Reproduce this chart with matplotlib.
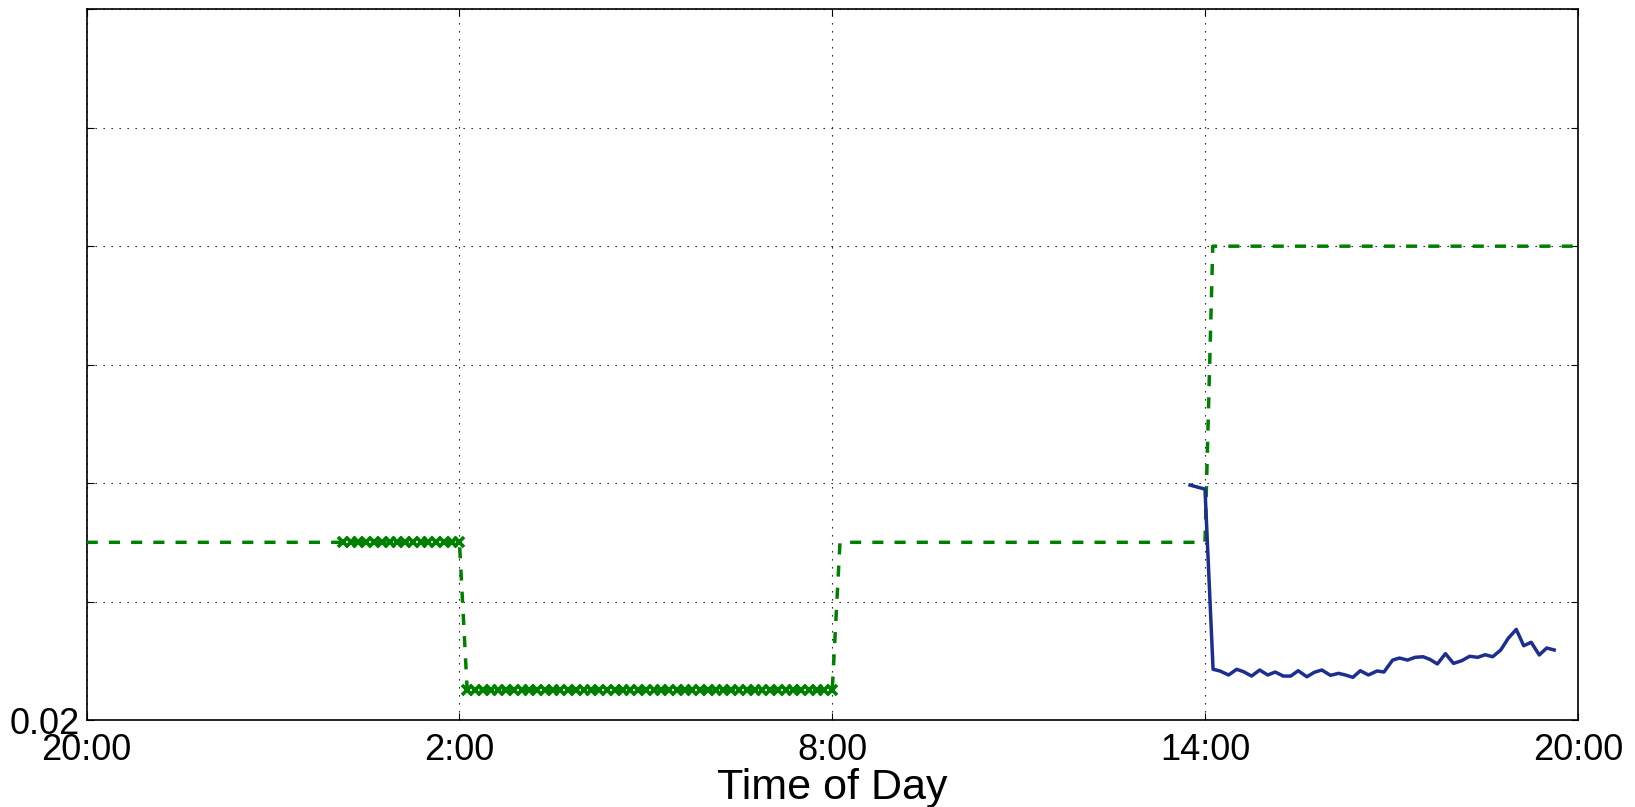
import numpy as np
import matplotlib
matplotlib.use("Agg")
import matplotlib.pyplot as plt

plt.rcParams['font.family'] = ['Liberation Sans', 'DejaVu Sans']

# x: hours since 20:00
xtick_pos = [0, 6, 12, 18, 24]
xtick_labels = ['20:00', '2:00', '8:00', '14:00', '20:00']
ytick_pos = [0.02, 0.03, 0.04, 0.05, 0.06, 0.07, 0.08]
ytick_labels = ['0.02', '', '', '', '', '', '']

# green schedule (dashed)
sched_t = [0.0, 6.0, 6.125, 12.0, 12.125, 18.0, 18.125, 24.0]
sched_v = [0.035, 0.035, 0.0225, 0.0225, 0.035, 0.035, 0.06, 0.06]

# green markers (x), sampled every 7.5 minutes
step_h = 0.125
mark_hi_t = np.arange(4.125, 6.0 + 1e-9, step_h)
mark_hi_v = [0.035] * len(mark_hi_t)
mark_lo_t = np.arange(6.125, 12.0 + 1e-9, step_h)
mark_lo_v = [0.0225] * len(mark_lo_t)

# blue measured series
blue_t = [17.76, 18.00, 18.13, 18.24, 18.38, 18.51, 18.62, 18.75, 18.88, 19.01,
          19.13, 19.26, 19.38, 19.50, 19.64, 19.76, 19.88, 20.02, 20.15, 20.26,
          20.38, 20.50, 20.63, 20.77, 20.88, 21.02, 21.13, 21.26, 21.38, 21.51,
          21.62, 21.74, 21.87, 22.00, 22.13, 22.26, 22.39, 22.51, 22.63, 22.76,
          22.88, 23.01, 23.13, 23.25, 23.38, 23.50, 23.62]
blue_v = [0.03983, 0.03949, 0.02428, 0.02414, 0.02380, 0.02428, 0.02408, 0.02371,
          0.02422, 0.02380, 0.02405, 0.02371, 0.02371, 0.02416, 0.02365, 0.02403,
          0.02422, 0.02377, 0.02394, 0.02380, 0.02360, 0.02416, 0.02380, 0.02414,
          0.02405, 0.02506, 0.02523, 0.02506, 0.02529, 0.02534, 0.02512, 0.02473,
          0.02560, 0.02478, 0.02500, 0.02538, 0.02529, 0.02551, 0.02534, 0.02591,
          0.02689, 0.02765, 0.02627, 0.02656, 0.02549, 0.02608, 0.02591]

fig = plt.figure(figsize=(16.35, 8.07), dpi=100)
ax = fig.add_axes([0.053, 0.1078, 0.912, 0.8807])

green = '#008000'
ax.plot(sched_t, sched_v, color=green, lw=2.5, ls=(0, (3.2, 3.2)), zorder=3)
ax.plot(mark_hi_t, mark_hi_v, ls='none', marker='x', ms=6.5, mew=2.6, color=green, zorder=4)
ax.plot(mark_lo_t, mark_lo_v, ls='none', marker='x', ms=6.5, mew=2.6, color=green, zorder=4)
ax.plot(blue_t, blue_v, color='#1c2f8e', lw=2.5, zorder=5)

ax.set_xlim(0, 24)
ax.set_ylim(0.02, 0.08)
ax.set_xticks(xtick_pos)
ax.set_xticklabels(xtick_labels)
ax.set_yticks(ytick_pos)
ax.set_yticklabels(ytick_labels)
ax.tick_params(direction='in', length=5, width=0.8, labelsize=26, top=True, right=True)
ax.tick_params(axis='x', pad=9)
ax.tick_params(axis='y', pad=5)
ax.grid(True, color='black', lw=0.8, ls=(0, (1.2, 6)))
for s in ax.spines.values():
    s.set_linewidth(1.2)
ax.set_xlabel('Time of Day', fontsize=31, labelpad=0)

fig.savefig('out.png', dpi=100)
